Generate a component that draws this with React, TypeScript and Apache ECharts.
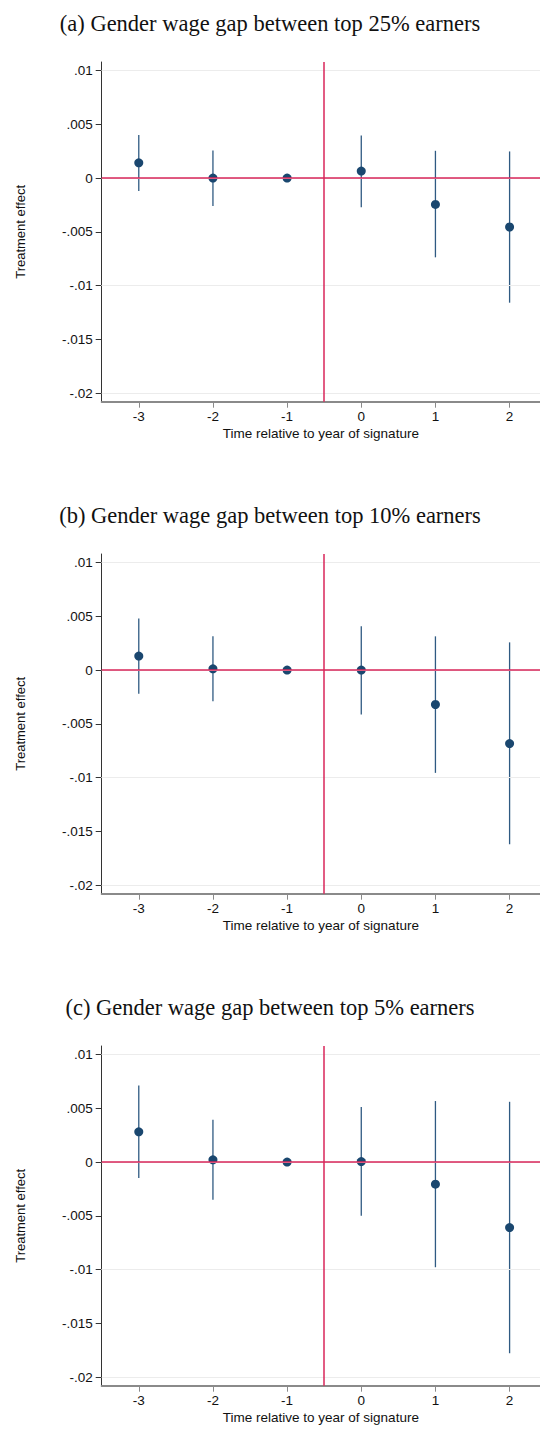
import React, { useEffect, useRef } from "react";
import * as echarts from "echarts";

const periods = [-3, -2, -1, 0, 1, 2];
const xTicks = [-3, -2, -1, 0, 1, 2];
const yTicks = [-0.02, -0.015, -0.01, -0.005, 0, 0.005, 0.01];

const titles = [
  "(a) Gender wage gap between top 25% earners",
  "(b) Gender wage gap between top 10% earners",
  "(c) Gender wage gap between top 5% earners",
];

const coefA = [0.00142, 0.0, 0.0, 0.00065, -0.00245, -0.00455];
const lowA = [-0.00121, -0.0026, null, -0.00272, -0.00737, -0.01159];
const highA = [0.00402, 0.00257, null, 0.00397, 0.00254, 0.00248];

const coefB = [0.0013, 0.00012, 0.0, 0.0, -0.0032, -0.00683];
const lowB = [-0.0022, -0.00289, null, -0.00413, -0.00956, -0.0162];
const highB = [0.00481, 0.00314, null, 0.00407, 0.00314, 0.00258];

const coefC = [0.00282, 0.00021, 0.0, 0.00005, -0.00205, -0.00609];
const lowC = [-0.00149, -0.00351, null, -0.005, -0.00978, -0.01778];
const highC = [0.00713, 0.00394, null, 0.00512, 0.00568, 0.00561];

const panels = [
  { coef: coefA, low: lowA, high: highA },
  { coef: coefB, low: lowB, high: highB },
  { coef: coefC, low: lowC, high: highC },
];

const PANEL_STEP = 492;
const NAVY = "#1a476f";
const RED = "#d9265a";
const FONT = "'Liberation Sans', Arial, Helvetica, sans-serif";

function fmtY(v: number): string {
  if (Math.abs(v) < 1e-12) return "0";
  const s = String(Math.abs(Number(v.toFixed(4)))).replace(/^0/, "");
  return (v < 0 ? "-" : "") + s;
}

export default function App() {
  const ref = useRef<HTMLDivElement>(null);
  useEffect(() => {
    if (!ref.current) return;
    const chart = echarts.init(ref.current, null, { renderer: "svg" });
    const grids: any[] = [];
    const xAxes: any[] = [];
    const yAxes: any[] = [];
    const series: any[] = [];
    const title: any[] = [];

    panels.forEach((p, i) => {
      const off = i * PANEL_STEP;
      title.push({
        text: titles[i],
        left: "center",
        top: 7 + off,
        textStyle: {
          fontFamily: "'Palatino Linotype', Palatino, 'Book Antiqua', 'Liberation Serif', serif",
          fontSize: 22.5,
          fontWeight: "normal",
          color: "#111",
        },
      });
      grids.push({ left: 101.7, top: 62 + off, right: 0, height: 339.7 });
      xAxes.push({
        type: "value",
        gridIndex: i,
        min: -3.5,
        max: 2.41,
        name: "Time relative to year of signature",
        nameLocation: "middle",
        nameGap: 25,
        nameTextStyle: { fontFamily: FONT, fontSize: 13.5, color: "#111" },
        axisLine: { show: true, onZero: false, lineStyle: { color: "#8a8a8a", width: 2 } },
        axisTick: { show: true, length: 6, customValues: xTicks, lineStyle: { color: "#8a8a8a" } },
        axisLabel: {
          customValues: xTicks,
          fontFamily: FONT,
          fontSize: 13.5,
          color: "#111",
          margin: 8,
        },
        splitLine: { show: false },
      });
      yAxes.push({
        type: "value",
        gridIndex: i,
        min: -0.0208,
        max: 0.0108,
        name: "Treatment effect",
        nameLocation: "middle",
        nameRotate: 90,
        nameGap: 75,
        nameTextStyle: { fontFamily: FONT, fontSize: 13, color: "#111" },
        axisLine: { show: true, onZero: false, lineStyle: { color: "#333", width: 1 } },
        axisTick: { show: true, length: 6, customValues: yTicks, lineStyle: { color: "#333" } },
        axisLabel: {
          customValues: yTicks,
          formatter: (v: number) => fmtY(v),
          fontFamily: FONT,
          fontSize: 13.5,
          color: "#111",
          margin: 9,
        },
        splitLine: { show: false },
      });

      // gridlines
      series.push({
        type: "line",
        xAxisIndex: i,
        yAxisIndex: i,
        data: [],
        silent: true,
        z: 0,
        markLine: {
          silent: true,
          symbol: "none",
          label: { show: false },
          lineStyle: { color: "#ececec", width: 1, type: "solid" },
          data: yTicks.map((t) => ({ yAxis: t })),
        },
      });
      // reference lines
      series.push({
        type: "line",
        xAxisIndex: i,
        yAxisIndex: i,
        data: [],
        silent: true,
        z: 1,
        markLine: {
          silent: true,
          symbol: "none",
          label: { show: false },
          lineStyle: { color: RED, width: 1.5, type: "solid" },
          data: [{ yAxis: 0 }, { xAxis: -0.5 }],
        },
      });
      // confidence intervals
      series.push({
        type: "custom",
        xAxisIndex: i,
        yAxisIndex: i,
        z: 2,
        data: periods.map((x, k) => [x, p.low[k], p.high[k]]),
        renderItem: (params: any, api: any) => {
          const lo = api.value(1);
          const hi = api.value(2);
          if (lo === null || hi === null || isNaN(lo) || isNaN(hi)) return null;
          const a = api.coord([api.value(0), lo]);
          const b = api.coord([api.value(0), hi]);
          return {
            type: "line",
            shape: { x1: a[0], y1: a[1], x2: b[0], y2: b[1] },
            style: { stroke: "#2f5a82", lineWidth: 1.3 },
          };
        },
      });
      // point estimates
      series.push({
        type: "scatter",
        xAxisIndex: i,
        yAxisIndex: i,
        z: 3,
        symbol: "circle",
        symbolSize: 9,
        itemStyle: { color: NAVY, opacity: 1 },
        data: periods.map((x, k) => [x, p.coef[k]]),
      });
    });

    chart.setOption({
      animation: false,
      backgroundColor: "#ffffff",
      title,
      grid: grids,
      xAxis: xAxes,
      yAxis: yAxes,
      series,
    });
    return () => chart.dispose();
  }, []);
  return (
    <div
      ref={ref}
      style={{ position: "absolute", left: 0, top: 0, width: 540, height: 1430 }}
    />
  );
}
